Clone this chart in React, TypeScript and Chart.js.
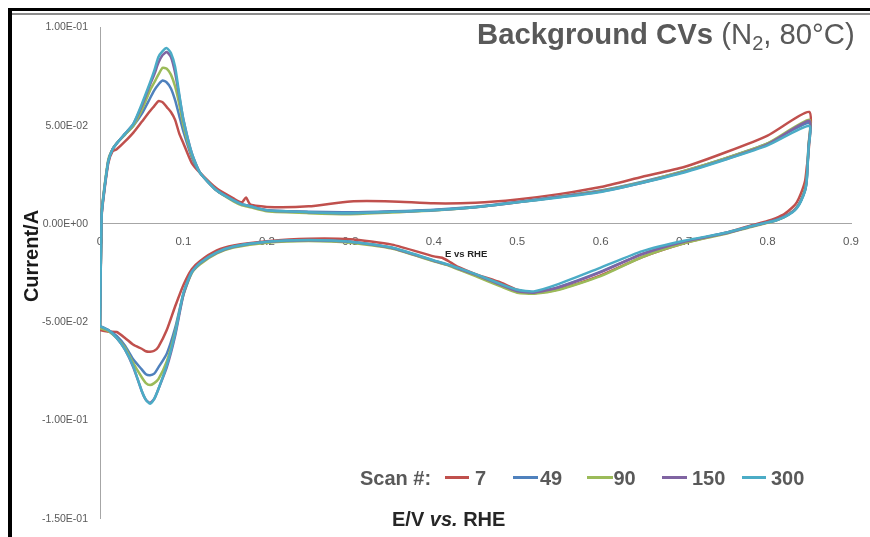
import React, { useEffect, useRef } from "react";
import { Chart, registerables } from "chart.js";

Chart.register(...registerables);

// Potential grid (V vs RHE) for the anodic (0 -> 0.85 V) and cathodic (0.85 -> 0 V) sweeps
const E_ANODIC = [
  0, 0.002, 0.005, 0.01, 0.015, 0.02, 0.03, 0.04, 0.05, 0.06,
  0.065, 0.07, 0.075, 0.08, 0.085, 0.09, 0.095, 0.1, 0.11, 0.12,
  0.14, 0.16, 0.17, 0.175, 0.18, 0.2, 0.25, 0.3, 0.35, 0.4,
  0.45, 0.5, 0.55, 0.6, 0.65, 0.7, 0.75, 0.8, 0.85,
];
const E_CATHODIC = [
  0.849, 0.847, 0.845, 0.84, 0.835, 0.83, 0.82, 0.81, 0.8, 0.78,
  0.75, 0.7, 0.65, 0.6, 0.55, 0.52, 0.5, 0.48, 0.45, 0.43,
  0.42, 0.41, 0.4, 0.35, 0.3, 0.25, 0.2, 0.16, 0.14, 0.12,
  0.11, 0.1, 0.09, 0.08, 0.07, 0.065, 0.06, 0.055, 0.05, 0.04,
  0.03, 0.02, 0.01, 0,
];

// Current (A), scan 7
const I_ANODIC_7 = [
  -0.054, 0.004, 0.016, 0.031, 0.037, 0.038, 0.042, 0.0465, 0.052, 0.0575,
  0.06, 0.0625, 0.062, 0.0595, 0.057, 0.053, 0.046, 0.041, 0.031, 0.026,
  0.018, 0.013, 0.011, 0.0135, 0.01, 0.0087, 0.009, 0.0115, 0.0115, 0.0105,
  0.0108, 0.0125, 0.0152, 0.0188, 0.024, 0.029, 0.0365, 0.045, 0.057,
];
const I_CATHODIC_7 = [
  0.036, 0.029, 0.022, 0.0155, 0.011, 0.0085, 0.005, 0.003, 0.0015, -0.0008,
  -0.0045, -0.0098, -0.0168, -0.0262, -0.0332, -0.0352, -0.0335, -0.0298, -0.0255, -0.022,
  -0.0195, -0.0172, -0.0165, -0.0105, -0.0078, -0.0075, -0.0088, -0.011, -0.0135, -0.0188,
  -0.023, -0.031, -0.042, -0.054, -0.0625, -0.0645, -0.065, -0.0648, -0.0635, -0.0615,
  -0.058, -0.055, -0.0548, -0.054,
];

// Current (A), scan 49
const I_ANODIC_49 = [
  -0.053, 0.005, 0.017, 0.032, 0.038, 0.041, 0.0455, 0.05, 0.056, 0.064,
  0.068, 0.071, 0.073, 0.072, 0.069, 0.063, 0.055, 0.047, 0.034, 0.026,
  0.017, 0.012, 0.01, 0.0095, 0.009, 0.007, 0.0062, 0.006, 0.0065, 0.0073,
  0.0088, 0.0112, 0.014, 0.017, 0.0215, 0.027, 0.0335, 0.041, 0.0515,
];
const I_CATHODIC_49 = [
  0.039, 0.023, 0.0175, 0.012, 0.0085, 0.0063, 0.0037, 0.002, 0.0009, -0.0012,
  -0.0045, -0.009, -0.0152, -0.0243, -0.032, -0.0348, -0.034, -0.031, -0.026, -0.023,
  -0.0213, -0.02, -0.0188, -0.0122, -0.0092, -0.0084, -0.0092, -0.0117, -0.0147, -0.02,
  -0.0245, -0.0355, -0.053, -0.066, -0.073, -0.0762, -0.077, -0.0765, -0.074, -0.069,
  -0.062, -0.057, -0.054, -0.052,
];

// Current (A), scan 90
const I_ANODIC_90 = [
  -0.053, 0.006, 0.018, 0.033, 0.038, 0.041, 0.0455, 0.05, 0.058, 0.068,
  0.072, 0.076, 0.0795, 0.079, 0.076, 0.07, 0.061, 0.05, 0.035, 0.026,
  0.017, 0.0115, 0.0095, 0.009, 0.0085, 0.0065, 0.0055, 0.005, 0.0058, 0.0068,
  0.0085, 0.011, 0.0138, 0.0168, 0.0212, 0.027, 0.0335, 0.041, 0.053,
];
const I_CATHODIC_90 = [
  0.04, 0.024, 0.018, 0.012, 0.0085, 0.0063, 0.0035, 0.0018, 0.0006, -0.0015,
  -0.005, -0.0098, -0.0168, -0.0265, -0.0335, -0.0355, -0.035, -0.0318, -0.0265, -0.0232,
  -0.0215, -0.0202, -0.019, -0.0125, -0.0095, -0.0087, -0.0095, -0.012, -0.015, -0.0205,
  -0.025, -0.036, -0.055, -0.07, -0.079, -0.081, -0.082, -0.081, -0.078, -0.071,
  -0.063, -0.058, -0.0545, -0.053,
];

// Current (A), scan 150
const I_ANODIC_150 = [
  -0.052, 0.005, 0.017, 0.032, 0.038, 0.041, 0.046, 0.051, 0.06, 0.071,
  0.076, 0.082, 0.086, 0.0875, 0.085, 0.077, 0.065, 0.053, 0.036, 0.026,
  0.017, 0.012, 0.01, 0.0095, 0.009, 0.007, 0.006, 0.0055, 0.0062, 0.007,
  0.0085, 0.011, 0.0137, 0.0165, 0.021, 0.0265, 0.033, 0.0405, 0.0525,
];
const I_CATHODIC_150 = [
  0.039, 0.023, 0.0172, 0.0118, 0.0082, 0.0062, 0.0036, 0.0019, 0.0008, -0.0013,
  -0.0047, -0.009, -0.0153, -0.0245, -0.0322, -0.035, -0.0342, -0.031, -0.0258, -0.0228,
  -0.0212, -0.0199, -0.0187, -0.0122, -0.0091, -0.0083, -0.0091, -0.0116, -0.0146, -0.0199,
  -0.0245, -0.036, -0.057, -0.073, -0.084, -0.089, -0.091, -0.0895, -0.085, -0.073,
  -0.064, -0.058, -0.054, -0.052,
];

// Current (A), scan 300
const I_ANODIC_300 = [
  -0.052, 0.005, 0.017, 0.032, 0.038, 0.041, 0.046, 0.051, 0.061, 0.072,
  0.078, 0.085, 0.088, 0.0895, 0.087, 0.08, 0.066, 0.053, 0.036, 0.026,
  0.017, 0.012, 0.01, 0.0095, 0.009, 0.007, 0.006, 0.0055, 0.0062, 0.007,
  0.0085, 0.011, 0.0135, 0.0163, 0.021, 0.0262, 0.0328, 0.04, 0.05,
];
const I_CATHODIC_300 = [
  0.038, 0.022, 0.017, 0.0115, 0.008, 0.006, 0.0035, 0.0018, 0.0008, -0.0012,
  -0.0045, -0.0085, -0.0138, -0.0222, -0.0305, -0.0343, -0.0335, -0.0305, -0.0255, -0.0225,
  -0.021, -0.0197, -0.0185, -0.012, -0.009, -0.0082, -0.009, -0.0115, -0.0145, -0.0198,
  -0.0245, -0.035, -0.056, -0.072, -0.084, -0.089, -0.0915, -0.0895, -0.085, -0.0726,
  -0.064, -0.058, -0.054, -0.052,
];

const SCAN_NUMBERS = ["7", "49", "90", "150", "300"];
const SCAN_COLORS = ["#C0504D", "#4F81BD", "#9BBB59", "#8064A2", "#4BACC6"];
const ANODIC_SERIES = [I_ANODIC_7, I_ANODIC_49, I_ANODIC_90, I_ANODIC_150, I_ANODIC_300];
const CATHODIC_SERIES = [I_CATHODIC_7, I_CATHODIC_49, I_CATHODIC_90, I_CATHODIC_150, I_CATHODIC_300];

const X_MIN = 0;
const X_MAX = 0.9;
const X_STEP = 0.1;
const Y_MIN = -0.15;
const Y_MAX = 0.1;
const Y_STEP = 0.05;

const FONT = '"Liberation Sans", Arial, Helvetica, sans-serif';
const GREY_TEXT = "#595959";

// Excel-style scientific label, e.g. 5.00E-02
function sciLabel(value: number): string {
  const v = Math.abs(value) < 1e-9 ? 0 : value;
  const [mant, exp] = v.toExponential(2).split("e");
  const sign = exp.startsWith("-") ? "-" : "+";
  const digits = exp.replace(/^[+-]/, "").padStart(2, "0");
  return `${mant}E${sign}${digits}`;
}

function buildLoop(anodic: number[], cathodic: number[]) {
  const up = E_ANODIC.map((x, i) => ({ x, y: anodic[i] }));
  const down = E_CATHODIC.map((x, i) => ({ x, y: cathodic[i] }));
  return up.concat(down);
}

function CvChart() {
  const canvasRef = useRef<HTMLCanvasElement | null>(null);

  useEffect(() => {
    const canvas = canvasRef.current;
    if (!canvas) return;

    const datasets = SCAN_NUMBERS.map((label, i) => ({
      label,
      data: buildLoop(ANODIC_SERIES[i], CATHODIC_SERIES[i]),
      borderColor: SCAN_COLORS[i],
      backgroundColor: SCAN_COLORS[i],
      borderWidth: 2.5,
      pointRadius: 0,
      showLine: true,
      fill: false,
      tension: 0.2,
      // later scans are painted over earlier ones
      order: SCAN_NUMBERS.length - 1 - i,
    }));

    const chart = new Chart(canvas, {
      type: "scatter",
      data: { datasets },
      options: {
        animation: false,
        responsive: false,
        maintainAspectRatio: false,
        layout: { padding: { left: 0, right: 17, top: 27.5, bottom: 17 } },
        plugins: {
          legend: { display: false },
          tooltip: { enabled: false },
          title: { display: false },
        },
        scales: {
          x: {
            type: "linear",
            position: { y: 0 } as any,
            min: X_MIN,
            max: X_MAX,
            afterFit: (scale: any) => {
              scale.height = 0;
            },
            grid: { display: false, drawTicks: false },
            border: { display: true, color: "#A6A6A6", width: 1 },
            ticks: {
              stepSize: X_STEP,
              autoSkip: false,
              maxRotation: 0,
              padding: 11,
              color: GREY_TEXT,
              font: { family: FONT, size: 11.5 },
              callback: (v: any) => String(parseFloat(Number(v).toFixed(1))),
            },
          },
          y: {
            type: "linear",
            position: "left",
            min: Y_MIN,
            max: Y_MAX,
            afterFit: (scale: any) => {
              scale.width = 100;
            },
            grid: { display: false, drawTicks: false },
            border: { display: true, color: "#A6A6A6", width: 1 },
            ticks: {
              stepSize: Y_STEP,
              padding: 12,
              color: GREY_TEXT,
              font: { family: FONT, size: 10.5 },
              callback: (v: any) => sciLabel(Number(v)),
            },
          },
        },
      },
    });

    return () => chart.destroy();
  }, []);

  return (
    <canvas
      ref={canvasRef}
      width={870}
      height={537}
      style={{ position: "absolute", left: 0, top: 0, width: 870, height: 537 }}
    />
  );
}

const textBase: React.CSSProperties = {
  position: "absolute",
  fontFamily: FONT,
  whiteSpace: "nowrap",
  margin: 0,
  padding: 0,
};

function LegendEntry({ color, label, lineLeft, lineWidth, textLeft }: {
  color: string; label: string; lineLeft: number; lineWidth: number; textLeft: number;
}) {
  return (
    <>
      <div style={{ position: "absolute", left: lineLeft, top: 476, width: lineWidth, height: 2.5, background: color }} />
      <div style={{ ...textBase, left: textLeft, top: 468, fontSize: 20, lineHeight: "20px", fontWeight: 700, color: GREY_TEXT }}>
        {label}
      </div>
    </>
  );
}

const LEGEND_LINE_LEFT = [445, 513, 587, 662, 742];
const LEGEND_LINE_WIDTH = [24, 25, 26, 25, 24];
const LEGEND_TEXT_LEFT = [475, 540, 613.5, 692, 771];

export default function App() {
  return (
    <div
      style={{
        position: "fixed",
        left: 0,
        top: 0,
        width: 870,
        height: 537,
        background: "#ffffff",
        overflow: "hidden",
      }}
    >
      <CvChart />

      {/* frame */}
      <div style={{ position: "absolute", left: 8, top: 8, width: 862, height: 2.5, background: "#000" }} />
      <div style={{ position: "absolute", left: 8, top: 8, width: 3.5, height: 529, background: "#000" }} />
      <div style={{ position: "absolute", left: 12, top: 13, width: 858, height: 1.5, background: "#8c8c8c" }} />

      {/* title */}
      <div style={{ ...textBase, left: 477, top: 18.7, fontSize: 29.3, lineHeight: "29.3px", color: GREY_TEXT }}>
        <span style={{ fontWeight: 700 }}>Background CVs</span>
        <span> (N</span>
        <span style={{ fontSize: 20, position: "relative", top: 6 }}>2</span>
        <span>, 80°C)</span>
      </div>

      {/* axis captions */}
      <div
        style={{
          ...textBase,
          left: -29.4,
          top: 245.5,
          width: 120,
          height: 20,
          textAlign: "center",
          fontSize: 20,
          lineHeight: "20px",
          fontWeight: 700,
          color: "#1a1a1a",
          transform: "rotate(-90deg)",
        }}
      >
        Current/A
      </div>
      <div style={{ ...textBase, left: 445, top: 248.7, fontSize: 9.5, lineHeight: "9.5px", fontWeight: 700, color: "#262626" }}>
        E vs RHE
      </div>
      <div style={{ ...textBase, left: 392, top: 509, fontSize: 20, lineHeight: "20px", fontWeight: 700, color: "#262626" }}>
        E/V <i>vs.</i> RHE
      </div>

      {/* legend */}
      <div style={{ ...textBase, left: 360, top: 468, fontSize: 20, lineHeight: "20px", fontWeight: 700, color: GREY_TEXT }}>
        Scan #:
      </div>
      {SCAN_NUMBERS.map((n, i) => (
        <LegendEntry
          key={n}
          color={SCAN_COLORS[i]}
          label={n}
          lineLeft={LEGEND_LINE_LEFT[i]}
          lineWidth={LEGEND_LINE_WIDTH[i]}
          textLeft={LEGEND_TEXT_LEFT[i]}
        />
      ))}
    </div>
  );
}
